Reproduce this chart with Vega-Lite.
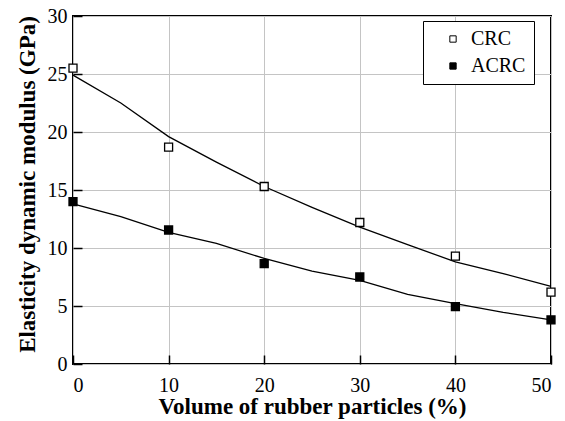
{
  "$schema": "https://vega.github.io/schema/vega-lite/v6.json",
  "width": 478,
  "height": 348,
  "autosize": {"type": "none"},
  "padding": {"left": 73, "top": 16, "right": 14, "bottom": 57},
  "background": "white",
  "config": {
    "font": "Liberation Serif",
    "view": {"stroke": "black", "strokeWidth": 2},
    "axis": {
      "domain": false,
      "grid": true,
      "gridColor": "#c4c4c4",
      "gridWidth": 1,
      "ticks": true,
      "tickColor": "black",
      "tickWidth": 1.5,
      "tickSize": -9,
      "labelFont": "Liberation Serif",
      "labelFontSize": 20,
      "labelColor": "black",
      "titleFont": "Liberation Serif",
      "titleFontWeight": "bold",
      "titleFontSize": 23,
      "titleColor": "black"
    }
  },
  "datasets": {
    "points": [
      {"volume": 0, "modulus": 25.5, "series": "CRC"},
      {"volume": 10, "modulus": 18.7, "series": "CRC"},
      {"volume": 20, "modulus": 15.3, "series": "CRC"},
      {"volume": 30, "modulus": 12.2, "series": "CRC"},
      {"volume": 40, "modulus": 9.3, "series": "CRC"},
      {"volume": 50, "modulus": 6.2, "series": "CRC"},
      {"volume": 0, "modulus": 14.0, "series": "ACRC"},
      {"volume": 10, "modulus": 11.55, "series": "ACRC"},
      {"volume": 20, "modulus": 8.65, "series": "ACRC"},
      {"volume": 30, "modulus": 7.5, "series": "ACRC"},
      {"volume": 40, "modulus": 4.94, "series": "ACRC"},
      {"volume": 50, "modulus": 3.8, "series": "ACRC"}
    ],
    "fit": [
      {"volume": 0, "modulus": 24.9, "series": "CRC"},
      {"volume": 5, "modulus": 22.5, "series": "CRC"},
      {"volume": 10, "modulus": 19.6, "series": "CRC"},
      {"volume": 15, "modulus": 17.4, "series": "CRC"},
      {"volume": 20, "modulus": 15.3, "series": "CRC"},
      {"volume": 25, "modulus": 13.5, "series": "CRC"},
      {"volume": 30, "modulus": 11.8, "series": "CRC"},
      {"volume": 35, "modulus": 10.3, "series": "CRC"},
      {"volume": 40, "modulus": 8.8, "series": "CRC"},
      {"volume": 45, "modulus": 7.8, "series": "CRC"},
      {"volume": 50, "modulus": 6.7, "series": "CRC"},
      {"volume": 0, "modulus": 13.8, "series": "ACRC"},
      {"volume": 5, "modulus": 12.7, "series": "ACRC"},
      {"volume": 10, "modulus": 11.35, "series": "ACRC"},
      {"volume": 15, "modulus": 10.4, "series": "ACRC"},
      {"volume": 20, "modulus": 9.1, "series": "ACRC"},
      {"volume": 25, "modulus": 8.0, "series": "ACRC"},
      {"volume": 30, "modulus": 7.2, "series": "ACRC"},
      {"volume": 35, "modulus": 6.0, "series": "ACRC"},
      {"volume": 40, "modulus": 5.2, "series": "ACRC"},
      {"volume": 45, "modulus": 4.45, "series": "ACRC"},
      {"volume": 50, "modulus": 3.8, "series": "ACRC"}
    ]
  },
  "layer": [
    {
      "data": {"name": "fit"},
      "mark": {"type": "line", "color": "black", "strokeWidth": 1.3},
      "encoding": {
        "x": {"field": "volume", "type": "quantitative", "scale": {"domain": [0, 50], "nice": false},
              "axis": {"values": [0, 10, 20, 30, 40, 50], "title": "Volume of rubber particles (%)", "labelPadding": 20, "titleY": 49, "titleBaseline": "alphabetic"}},
        "y": {"field": "modulus", "type": "quantitative", "scale": {"domain": [0, 30], "nice": false},
              "axis": {"values": [0, 5, 10, 15, 20, 25, 30], "title": "Elasticity dynamic modulus (GPa)", "labelPadding": 15, "titleX": -39, "titleY": 168, "titleBaseline": "alphabetic"}},
        "detail": {"field": "series"}
      }
    },
    {
      "data": {"name": "points"},
      "mark": {"type": "point", "shape": "square", "size": 64, "stroke": "black", "strokeWidth": 1.3, "opacity": 1},
      "encoding": {
        "x": {"field": "volume", "type": "quantitative"},
        "y": {"field": "modulus", "type": "quantitative"},
        "fill": {
          "field": "series", "type": "nominal",
          "scale": {"domain": ["CRC", "ACRC"], "range": ["white", "black"]},
          "legend": {
            "title": null,
            "orient": "none",
            "legendX": 350,
            "legendY": 5,
            "strokeColor": "black",
            "fillColor": "white",
            "padding": 8,
            "symbolType": "square",
            "symbolSize": 40,
            "symbolStrokeColor": "black",
            "symbolStrokeWidth": 1,
            "symbolOffset": 12,
            "labelOffset": 8,
            "labelFont": "Liberation Serif",
            "labelFontSize": 20,
            "labelColor": "black",
            "rowPadding": 7
          }
        }
      }
    }
  ]
}
